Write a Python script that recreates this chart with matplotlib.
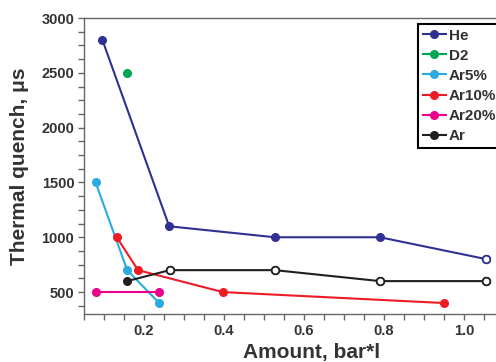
import matplotlib.pyplot as plt

plt.rcParams['font.family'] = ['Liberation Sans', 'DejaVu Sans']

# data
he_x = [0.096, 0.263, 0.527, 0.79, 1.056]
he_y = [2800, 1100, 1000, 1000, 800]
he_open = [False, False, False, False, True]

d2_x = [0.157]
d2_y = [2500]

ar5_x = [0.079, 0.158, 0.238]
ar5_y = [1500, 700, 400]

ar10_x = [0.132, 0.185, 0.397, 0.95]
ar10_y = [1000, 700, 500, 400]

ar20_x = [0.079, 0.238]
ar20_y = [500, 500]

ar_x = [0.158, 0.264, 0.527, 0.79, 1.056]
ar_y = [600, 700, 700, 600, 600]
ar_open = [False, True, True, True, True]

series = [
    ('He', he_x, he_y, '#2e3192', he_open),
    ('D2', d2_x, d2_y, '#00a651', None),
    ('Ar5%', ar5_x, ar5_y, '#29abe2', None),
    ('Ar10%', ar10_x, ar10_y, '#ed1c24', None),
    ('Ar20%', ar20_x, ar20_y, '#ec008c', None),
    ('Ar', ar_x, ar_y, '#231f20', ar_open),
]

fig = plt.figure(figsize=(4.96, 3.62), dpi=100)
ax = fig.add_axes([84/496, 48/362, (540-84)/496, 296/362])

for name, xs, ys, col, opn in series:
    ax.plot(xs, ys, '-', color=col, lw=1.5, marker='o', ms=5.5, mfc=col, mec=col, label=name)
    if opn:
        ox = [x for x, o in zip(xs, opn) if o]
        oy = [y for y, o in zip(ys, opn) if o]
        ax.plot(ox, oy, 'o', ms=5.5, mfc='white', mec=col, mew=1.3, ls='none')

ax.set_xlim(0.05, 1.19)
ax.set_ylim(300, 3000)
ax.set_xticks([0.2, 0.4, 0.6, 0.8, 1.0])
ax.set_xticklabels(['0.2', '0.4', '0.6', '0.8', '1.0'])
ax.set_xticks([0.05 * i for i in range(1, 24)], minor=True)
ax.set_yticks([500, 1000, 1500, 2000, 2500, 3000])
ax.set_yticks([375 + 125 * i for i in range(22)], minor=True)

for s in ['left', 'bottom', 'top']:
    ax.spines[s].set_color('#666666')
    ax.spines[s].set_linewidth(1.0)
ax.spines['right'].set_visible(False)
ax.tick_params(which='both', direction='out', color='#666666', width=1.0)
ax.tick_params(which='major', length=4, labelsize=10.5, pad=3)
ax.tick_params(which='minor', length=4)
for lab in ax.get_xticklabels() + ax.get_yticklabels():
    lab.set_fontweight('bold')
    lab.set_color('#333333')

ax.set_ylabel('Thermal quench, \u03bcs', fontsize=15, fontweight='bold', color='#333333', labelpad=9)
ax.set_xlabel('Amount, bar*l', fontsize=15, fontweight='bold', color='#333333', labelpad=4)

leg = ax.legend(loc='upper left', bbox_to_anchor=(418/496, 1 - 24/362), bbox_transform=fig.transFigure,
                fancybox=False, framealpha=1, edgecolor='black', fontsize=11,
                handlelength=1.5, handletextpad=0.2, labelspacing=0.4, borderpad=0.3, borderaxespad=0)
leg.get_frame().set_linewidth(1.5)
for t in leg.get_texts():
    t.set_fontweight('bold')
    t.set_color('#333333')

fig.savefig('out.png', dpi=100)
